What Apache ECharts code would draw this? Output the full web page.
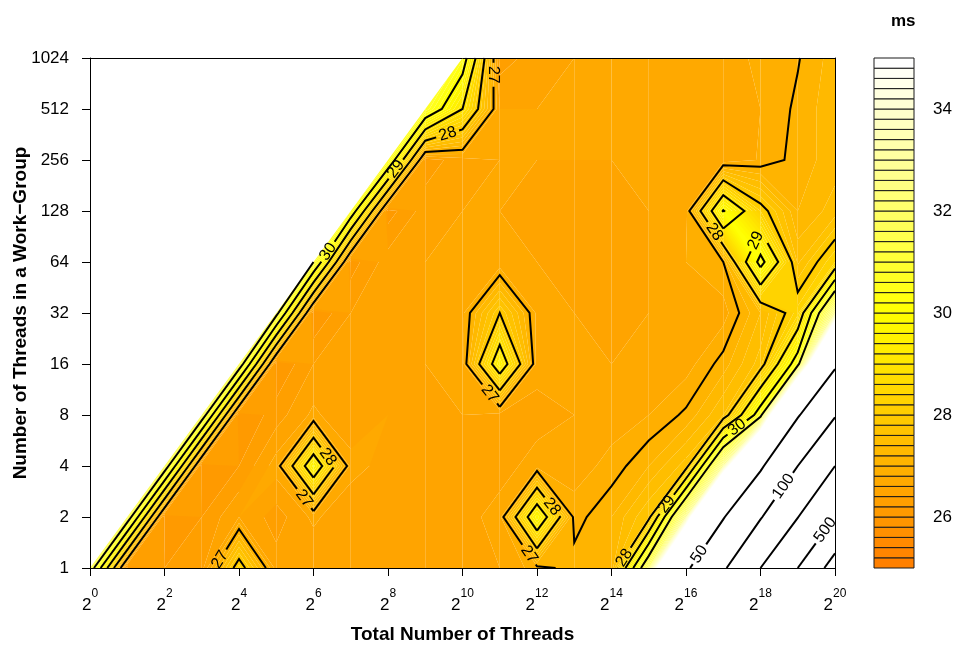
<!DOCTYPE html>
<html>
<head>
<meta charset="utf-8">
<script src="https://cdn.jsdelivr.net/npm/echarts@6/dist/echarts.min.js"></script>
<style>
  html, body { margin: 0; padding: 0; background: #fff; }
  #chart { width: 958px; height: 650px; }
</style>
</head>
<body>
<div id="chart"></div>
<script>
// Axis exponents: total threads 2^0..2^20, work-group size 2^0..2^10
const totalExp = [0, 1, 2, 3, 4, 5, 6, 7, 8, 9, 10, 11, 12, 13, 14, 15, 16, 17, 18, 19, 20];
const groupExp = [0, 1, 2, 3, 4, 5, 6, 7, 8, 9, 10];
const groupLabels = ['1', '2', '4', '8', '16', '32', '64', '128', '256', '512', '1024'];
const keyTicks = [26, 28, 30, 32, 34];
const lineLevels = [27, 28, 29, 30, 31, 50, 100, 200, 500, 1000];

// Run time in ms; one row per work-group exponent, one column per total-thread exponent.
// null where the work-group would be larger than the total thread count.
const timeMs = [
  [31.6, 26.0, 26.2, 26.3, 28.3, 26.5, 26.4, 26.4, 26.5, 26.5, 26.5, 26.6, 26.9, 27.1, 27.2, 32, 45, 90, 200, 500, 1200],
  [null, 31.6, 26.0, 26.2, 26.6, 26.3, 26.65, 26.4, 26.5, 26.5, 26.5, 26.7, 29.77, 26.9, 27.2, 27.8, 33, 48, 95, 195, 500],
  [null, null, 31.6, 26.0, 26.2, 26.7, 29.7, 26.7, 26.5, 26.4, 26.5, 26.5, 26.7, 26.7, 26.87, 27.2, 27.7, 33, 45, 100, 200],
  [null, null, null, 31.6, 26.0, 26.3, 26.65, 26.4, 26.6, 26.5, 26.6, 26.5, 26.5, 26.6, 26.7, 26.8, 27.05, 27.6, 30.5, 47, 95],
  [null, null, null, null, 31.6, 26.0, 26.4, 26.5, 26.4, 26.6, 26.7, 29.6, 26.7, 26.6, 26.6, 26.6, 26.7, 27.1, 27.7, 30.5, 45],
  [null, null, null, null, null, 31.3, 26.0, 26.4, 26.5, 26.6, 26.75, 28.0, 26.75, 26.6, 26.5, 26.6, 26.6, 26.7, 27.4, 28.3, 33],
  [null, null, null, null, null, null, 31.0, 26.1, 26.5, 26.6, 26.6, 26.65, 26.6, 26.5, 26.5, 26.6, 26.8, 27.0, 30.3, 27.56, 28.4],
  [null, null, null, null, null, null, null, 30.6, 26.1, 26.5, 26.6, 26.6, 26.5, 26.5, 26.5, 26.6, 26.7, 30.05, 28.2, 27.2, 27.5],
  [null, null, null, null, null, null, null, null, 30.8, 26.3, 26.5, 26.6, 26.6, 26.6, 26.6, 26.6, 26.6, 26.65, 26.82, 27.1, 27.3],
  [null, null, null, null, null, null, null, null, null, 30.8, 29.0, 26.6, 26.6, 26.6, 26.6, 26.6, 26.6, 26.7, 26.8, 27.05, 27.35],
  [null, null, null, null, null, null, null, null, null, null, 30.47, 26.3, 26.5, 26.6, 26.6, 26.6, 26.6, 26.7, 26.85, 26.98, 27.3]
];

// Where each contour label sits: [level, total exponent, group exponent]
const lineLabelSpots = [
  [30, 6.31, 6.24], [29, 8.32, 7.76], [28, 9.61, 8.49], [27, 10.79, 9.67],
  [27, 3.3, 0.25], [28, 6.39, 2.18], [27, 5.69, 1.33], [27, 10.69, 3.39],
  [28, 12.4, 1.2], [27, 11.76, 0.25], [28, 16.72, 6.57], [29, 17.85, 6.43],
  [28, 14.3, 0.22], [29, 15.5, 1.24], [30, 17.36, 2.77],
  [50, 16.46, 0.22], [100, 18.7, 1.56], [500, 19.73, 0.75]
];

// ---- colour key: 0.2 ms bands from 25 to 35, orange -> yellow -> white ----
const fillBreaks = [];
for (let i = 0; i <= 50; i++) fillBreaks.push(+(25 + i * 0.2).toFixed(1));
const nBands = fillBreaks.length - 1;
function rampColor(t) {
  let g, b;
  if (t <= 0.5) { g = 128 + 127 * (t / 0.5); b = 0; }
  else { g = 255; b = 255 * (t - 0.5) / 0.5; }
  return 'rgb(255,' + Math.round(g) + ',' + Math.round(b) + ')';
}
const bandColors = fillBreaks.slice(0, -1).map((_, i) => rampColor(i / (nBands - 1)));

// ---- grid cells (squares, plus half cells along the diagonal edge) ----
function valueAt(x, y) {
  const row = timeMs[y];
  if (!row) return null;
  const v = row[x];
  return v === undefined ? null : v;
}
const cells = [];
for (let y = 0; y < groupExp.length - 1; y++) {
  for (let x = 0; x < totalExp.length - 1; x++) {
    const a = valueAt(x, y), b = valueAt(x + 1, y), c = valueAt(x + 1, y + 1), d = valueAt(x, y + 1);
    if (a != null && b != null && c != null && d != null) {
      cells.push([[x, y, a], [x + 1, y, b], [x + 1, y + 1, c], [x, y + 1, d]]);
    } else if (a != null && b != null && c != null && d == null) {
      cells.push([[x, y, a], [x + 1, y, b], [x + 1, y + 1, c]]);
    }
  }
}

function edgePoint(a, b, L) {
  // computed from a canonical end so neighbouring cells agree exactly
  let p = a, q = b;
  if (b[0] < a[0] || (b[0] === a[0] && b[1] < a[1])) { p = b; q = a; }
  const t = (L - p[2]) / (q[2] - p[2]);
  return [p[0] + t * (q[0] - p[0]), p[1] + t * (q[1] - p[1])];
}

// polygon of the part of a cell whose value lies in [lo, hi)
function bandPolygon(corners, lo, hi) {
  const pts = [];
  const n = corners.length;
  for (let i = 0; i < n; i++) {
    const a = corners[i], b = corners[(i + 1) % n];
    if (a[2] >= lo && a[2] < hi) pts.push([a[0], a[1]]);
    const cr = [];
    [lo, hi].forEach(L => {
      if ((a[2] >= L) !== (b[2] >= L)) {
        cr.push([(L - a[2]) / (b[2] - a[2]), edgePoint(a, b, L)]);
      }
    });
    cr.sort((u, v) => u[0] - v[0]);
    cr.forEach(c => pts.push(c[1]));
  }
  return pts;
}

function levelSegments(corners, L) {
  const n = corners.length;
  const above = corners.map(c => c[2] >= L);
  const pts = [];
  for (let i = 0; i < n; i++) {
    const j = (i + 1) % n;
    if (above[i] !== above[j]) pts.push(edgePoint(corners[i], corners[j], L));
  }
  if (pts.length === 2) return [[pts[0], pts[1]]];
  if (pts.length === 4) {
    const centre = corners.reduce((s, c) => s + c[2], 0) / 4;
    if ((centre >= L) === above[0]) return [[pts[0], pts[1]], [pts[2], pts[3]]];
    return [[pts[3], pts[0]], [pts[1], pts[2]]];
  }
  return [];
}

function chainSegments(segs) {
  const key = p => p[0].toFixed(6) + ',' + p[1].toFixed(6);
  const ends = new Map();
  segs.forEach((s, i) => s.forEach(p => {
    const k = key(p);
    if (!ends.has(k)) ends.set(k, []);
    ends.get(k).push(i);
  }));
  const used = segs.map(() => false);
  const chains = [];
  for (let i = 0; i < segs.length; i++) {
    if (used[i]) continue;
    used[i] = true;
    const chain = [segs[i][0], segs[i][1]];
    [true, false].forEach(atEnd => {
      for (;;) {
        const p = atEnd ? chain[chain.length - 1] : chain[0];
        const k = key(p);
        const j = (ends.get(k) || []).find(s => !used[s]);
        if (j === undefined) break;
        used[j] = true;
        const s = segs[j];
        const other = key(s[0]) === k ? s[1] : s[0];
        if (atEnd) chain.push(other); else chain.unshift(other);
      }
    });
    chains.push(chain);
  }
  return chains;
}

const contourPaths = [];
lineLevels.forEach(L => {
  const segs = [];
  cells.forEach(c => levelSegments(c, L).forEach(s => segs.push(s)));
  chainSegments(segs).forEach(ch => contourPaths.push({ level: L, points: ch }));
});

// ---- contour labels: snapped onto their line in pixel space ----
const LABEL_FONT = 16;
function placeLabel(api, spot) {
  const target = api.coord([spot[1], spot[2]]);
  let best = null;
  contourPaths.forEach(path => {
    if (path.level !== spot[0]) return;
    const px = path.points.map(p => api.coord(p));
    for (let i = 0; i < px.length - 1; i++) {
      const a = px[i], b = px[i + 1];
      const dx = b[0] - a[0], dy = b[1] - a[1];
      const len2 = dx * dx + dy * dy;
      if (len2 === 0) continue;
      let t = ((target[0] - a[0]) * dx + (target[1] - a[1]) * dy) / len2;
      t = Math.max(0, Math.min(1, t));
      const q = [a[0] + t * dx, a[1] + t * dy];
      const d = Math.hypot(q[0] - target[0], q[1] - target[1]);
      if (!best || d < best.d) best = { d: d, p: q, dx: dx, dy: dy };
    }
  });
  if (!best || best.d > 30) return null;
  let ang = Math.atan2(-best.dy, best.dx);
  if (ang >= Math.PI / 2) ang -= Math.PI;
  if (ang < -Math.PI / 2) ang += Math.PI;
  const text = String(spot[0]);
  return { p: best.p, rotation: ang, text: text, r: text.length * 0.56 * LABEL_FONT / 2 + 3 };
}

function cutPolyline(pts, holes) {
  const out = [];
  let cur = [];
  for (let i = 0; i < pts.length - 1; i++) {
    const a = pts[i], b = pts[i + 1];
    const dx = b[0] - a[0], dy = b[1] - a[1];
    const A = dx * dx + dy * dy;
    const cuts = [];
    holes.forEach(h => {
      if (A === 0) return;
      const fx = a[0] - h.p[0], fy = a[1] - h.p[1];
      const B = 2 * (fx * dx + fy * dy), C = fx * fx + fy * fy - h.r * h.r;
      const disc = B * B - 4 * A * C;
      if (disc <= 0) return;
      const s = Math.sqrt(disc);
      const t0 = (-B - s) / (2 * A), t1 = (-B + s) / (2 * A);
      if (t1 <= 0 || t0 >= 1) return;
      cuts.push([Math.max(0, t0), Math.min(1, t1)]);
    });
    cuts.sort((u, v) => u[0] - v[0]);
    const visible = [];
    let t = 0;
    cuts.forEach(c => {
      if (c[0] > t) visible.push([t, c[0]]);
      t = Math.max(t, c[1]);
    });
    if (t < 1) visible.push([t, 1]);
    const P = tt => [a[0] + tt * dx, a[1] + tt * dy];
    if (!visible.length) { if (cur.length > 1) out.push(cur); cur = []; continue; }
    visible.forEach(iv => {
      if (iv[0] > 0 || cur.length === 0) {
        if (cur.length > 1) out.push(cur);
        cur = [P(iv[0])];
      }
      cur.push(P(iv[1]));
      if (iv[1] < 1) { out.push(cur); cur = []; }
    });
  }
  if (cur.length > 1) out.push(cur);
  return out;
}

const FONT = 'Liberation Sans, Arial, Helvetica, sans-serif';
const chart = echarts.init(document.getElementById('chart'), null, { renderer: 'canvas' });

const option = {
  animation: false,
  backgroundColor: '#fff',
  title: {
    text: 'ms', left: 886, top: 8,
    textStyle: { fontFamily: FONT, fontSize: 17, fontWeight: 'bold', color: '#000' }
  },
  grid: [
    { left: 90, top: 58, width: 745, height: 510, outerBoundsMode: 'none', containLabel: false },
    { left: 874, top: 58, width: 40, height: 510, outerBoundsMode: 'none', containLabel: false }
  ],
  xAxis: [
    {
      gridIndex: 0, type: 'value', min: 0, max: 20, interval: 2, z: 10,
      name: 'Total Number of Threads', nameLocation: 'middle', nameGap: 57, nameMoveOverlap: false,
      nameTextStyle: { fontFamily: FONT, fontSize: 19, fontWeight: 'bold', color: '#000' },
      axisLine: { show: true, onZero: false, lineStyle: { color: '#000', width: 1 } },
      axisTick: { show: true, length: 8, lineStyle: { color: '#000' } },
      splitLine: { show: false },
      axisLabel: {
        margin: 20, color: '#000',
        formatter: v => '{b|2}{s|' + v + '}',
        rich: {
          b: { fontFamily: FONT, fontSize: 17, lineHeight: 26, verticalAlign: 'bottom', color: '#000' },
          s: { fontFamily: FONT, fontSize: 12, lineHeight: 10, verticalAlign: 'top', color: '#000' }
        }
      }
    },
    {
      gridIndex: 0, type: 'value', min: 0, max: 20, position: 'top', z: 10,
      axisLine: { show: true, onZero: false, lineStyle: { color: '#000', width: 1 } },
      axisTick: { show: false }, axisLabel: { show: false }, splitLine: { show: false }
    },
    { gridIndex: 1, type: 'value', min: 0, max: 1, show: false }
  ],
  yAxis: [
    {
      gridIndex: 0, type: 'value', min: 0, max: 10, interval: 1, z: 10,
      name: 'Number of Threads in a Work\u2212Group', nameLocation: 'middle', nameGap: 60, nameRotate: 90,
      nameMoveOverlap: false,
      nameTextStyle: { fontFamily: FONT, fontSize: 19, fontWeight: 'bold', color: '#000' },
      axisLine: { show: true, onZero: false, lineStyle: { color: '#000', width: 1 } },
      axisTick: { show: true, length: 8, lineStyle: { color: '#000' } },
      splitLine: { show: false },
      axisLabel: {
        margin: 21, color: '#000', fontFamily: FONT, fontSize: 17,
        formatter: v => groupLabels[groupExp.indexOf(v)]
      }
    },
    {
      gridIndex: 0, type: 'value', min: 0, max: 10, position: 'right', z: 10,
      axisLine: { show: true, onZero: false, lineStyle: { color: '#000', width: 1 } },
      axisTick: { show: false }, axisLabel: { show: false }, splitLine: { show: false }
    },
    {
      gridIndex: 1, type: 'value', min: 25, max: 35, position: 'right',
      axisLine: { show: false }, splitLine: { show: false },
      axisTick: { show: true, length: 10, customValues: keyTicks, lineStyle: { color: '#000' } },
      axisLabel: { customValues: keyTicks, margin: 19, color: '#000', fontFamily: FONT, fontSize: 17 }
    }
  ],
  series: [
    {
      // filled contour bands, cell by cell
      type: 'custom', coordinateSystem: 'cartesian2d', xAxisIndex: 0, yAxisIndex: 0, z: 2,
      silent: true,
      data: cells.map(c => [c[0][0], c[0][1]]),
      renderItem: (params, api) => {
        const corners = cells[params.dataIndex];
        const vals = corners.map(c => c[2]);
        const vmin = Math.min.apply(null, vals), vmax = Math.max.apply(null, vals);
        const children = [];
        for (let i = 0; i < nBands; i++) {
          const lo = fillBreaks[i], hi = fillBreaks[i + 1];
          if (hi <= vmin || lo > vmax) continue;
          const poly = bandPolygon(corners, lo, hi);
          if (poly.length < 3) continue;
          children.push({
            type: 'polygon',
            shape: { points: poly.map(p => api.coord(p)) },
            style: { fill: bandColors[i] }
          });
        }
        return { type: 'group', children: children };
      }
    },
    {
      // contour lines, broken where a label sits
      type: 'custom', coordinateSystem: 'cartesian2d', xAxisIndex: 0, yAxisIndex: 0, z: 3,
      silent: true,
      data: contourPaths.map(p => [p.points[0][0], p.points[0][1]]),
      renderItem: (params, api) => {
        const path = contourPaths[params.dataIndex];
        const holes = lineLabelSpots.filter(s => s[0] === path.level)
          .map(s => placeLabel(api, s)).filter(Boolean);
        const pieces = cutPolyline(path.points.map(p => api.coord(p)), holes);
        return {
          type: 'group',
          children: pieces.map(pts => ({
            type: 'polyline',
            shape: { points: pts },
            style: { stroke: '#000', lineWidth: 2, fill: null, lineJoin: 'miter', lineCap: 'butt' }
          }))
        };
      }
    },
    {
      // contour labels
      type: 'custom', coordinateSystem: 'cartesian2d', xAxisIndex: 0, yAxisIndex: 0, z: 4,
      silent: true,
      data: lineLabelSpots.map(s => [s[1], s[2]]),
      renderItem: (params, api) => {
        const lab = placeLabel(api, lineLabelSpots[params.dataIndex]);
        if (!lab) return null;
        return {
          type: 'text', x: lab.p[0], y: lab.p[1], rotation: lab.rotation,
          style: {
            text: lab.text, fill: '#000', align: 'center', verticalAlign: 'middle',
            fontFamily: FONT, fontSize: LABEL_FONT
          }
        };
      }
    },
    {
      // colour key
      type: 'custom', coordinateSystem: 'cartesian2d', xAxisIndex: 2, yAxisIndex: 2, z: 2,
      silent: true,
      data: bandColors.map((c, i) => [0, fillBreaks[i]]),
      renderItem: (params, api) => {
        const i = params.dataIndex;
        const p0 = api.coord([0, fillBreaks[i]]), p1 = api.coord([1, fillBreaks[i + 1]]);
        return {
          type: 'rect',
          shape: { x: p0[0], y: p1[1], width: p1[0] - p0[0], height: p0[1] - p1[1] },
          style: { fill: bandColors[i], stroke: '#1a1a1a', lineWidth: 1 }
        };
      }
    }
  ]
};
chart.setOption(option);
</script>
</body>
</html>
